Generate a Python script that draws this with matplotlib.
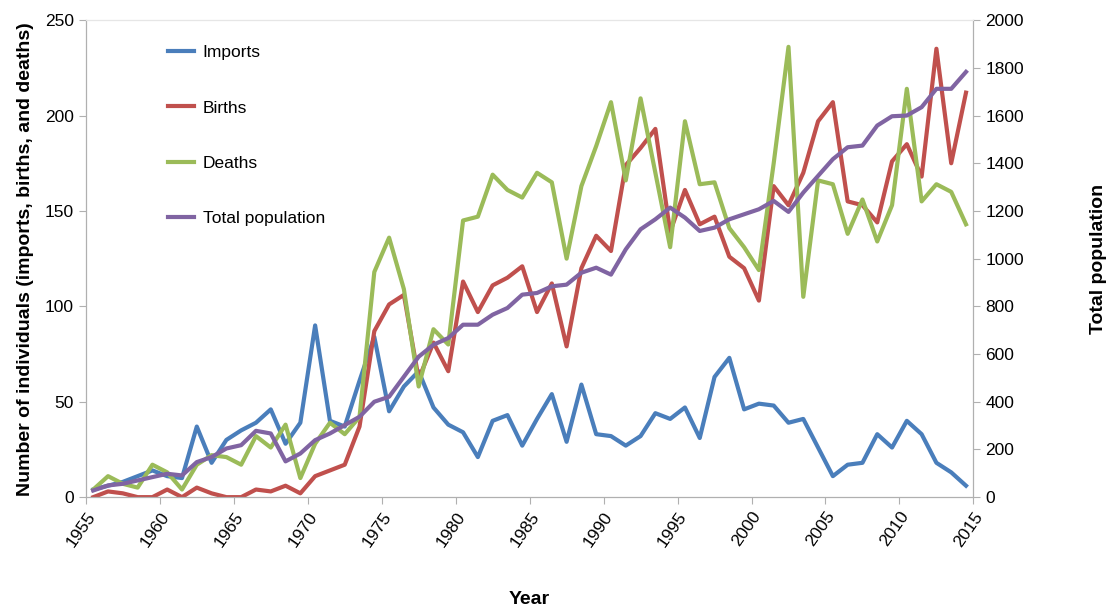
import numpy as np
import matplotlib
matplotlib.use("Agg")
import matplotlib.pyplot as plt

plt.rcParams['font.family'] = ['Liberation Sans', 'DejaVu Sans']

years = np.arange(1955, 2015)

imports = [4, 6, 8, 11, 14, 11, 10, 37, 18, 30,
           35, 39, 46, 28, 39, 90, 40, 37, 61, 84,
           45, 58, 66, 47, 38, 34, 21, 40, 43, 27,
           41, 54, 29, 59, 33, 32, 27, 32, 44, 41,
           47, 31, 63, 73, 46, 49, 48, 39, 41, 26,
           11, 17, 18, 33, 26, 40, 33, 18, 13, 6]

births = [0, 3, 2, 0, 0, 4, 0, 5, 2, 0,
          0, 4, 3, 6, 2, 11, 14, 17, 37, 87,
          101, 106, 62, 81, 66, 113, 97, 111, 115, 121,
          97, 112, 79, 120, 137, 129, 174, 183, 193, 139,
          161, 143, 147, 126, 120, 103, 163, 153, 170, 197,
          207, 155, 153, 144, 176, 185, 168, 235, 175, 212]

deaths = [4, 11, 7, 5, 17, 13, 4, 17, 22, 21,
          17, 32, 26, 38, 10, 28, 39, 33, 42, 118,
          136, 109, 58, 88, 80, 145, 147, 169, 161, 157,
          170, 165, 125, 163, 184, 207, 166, 209, 170, 131,
          197, 164, 165, 141, 131, 119, 175, 236, 105, 166,
          164, 138, 156, 134, 153, 214, 155, 164, 160, 143]

total_pop = [28, 49, 56, 70, 84, 98, 91, 147, 168, 204,
             218, 278, 267, 150, 183, 239, 267, 302, 337, 400,
             421, 505, 589, 639, 667, 723, 723, 765, 793, 849,
             856, 884, 891, 941, 962, 933, 1039, 1123, 1165, 1214,
             1172, 1116, 1130, 1165, 1186, 1207, 1242, 1196, 1277, 1347,
             1417, 1467, 1474, 1558, 1597, 1600, 1635, 1712, 1712, 1783]

x = years + 0.5
lw = 3
grey = '#b0b0b0'

fig = plt.figure(figsize=(11.15, 6.1), dpi=100)
ax = fig.add_axes([0.077, 0.185, 0.796, 0.782])
ax2 = ax.twinx()

l1, = ax.plot(x, imports, color='#4a7ebb', lw=lw, label='Imports')
l2, = ax.plot(x, births, color='#c0504d', lw=lw, label='Births')
l3, = ax.plot(x, deaths, color='#9bbb59', lw=lw, label='Deaths')
l4, = ax2.plot(x, total_pop, color='#8064a2', lw=lw, label='Total population')

ax.set_xlim(1955, 2015)
ax.set_ylim(0, 250)
ax2.set_ylim(0, 2000)
ax.set_xticks(np.arange(1955, 2016, 5))
ax.set_yticks(np.arange(0, 251, 50))
ax2.set_yticks(np.arange(0, 2001, 200))

for a in (ax, ax2):
    for s in a.spines.values():
        s.set_color(grey)
    a.spines['top'].set_color('#e6e6e6')
    a.tick_params(colors=grey, labelcolor='black', labelsize=12.5, length=5)

plt.setp(ax.get_xticklabels(), rotation=55, ha='right', rotation_mode='anchor')

ax.set_xlabel('Year', fontsize=14, fontweight='bold', labelpad=30)
ax.set_ylabel('Number of individuals (imports, births, and deaths)',
              fontsize=14, fontweight='bold', labelpad=8)
ax2.set_ylabel('Total population', fontsize=14, fontweight='bold',
               rotation=90, labelpad=48)

ax.legend(handles=[l1, l2, l3, l4], loc='upper left',
          bbox_to_anchor=(0.075, 0.98), frameon=False, fontsize=12.5,
          labelspacing=2.3, handlelength=1.5, handletextpad=0.5)

fig.savefig('out.png', dpi=100)
